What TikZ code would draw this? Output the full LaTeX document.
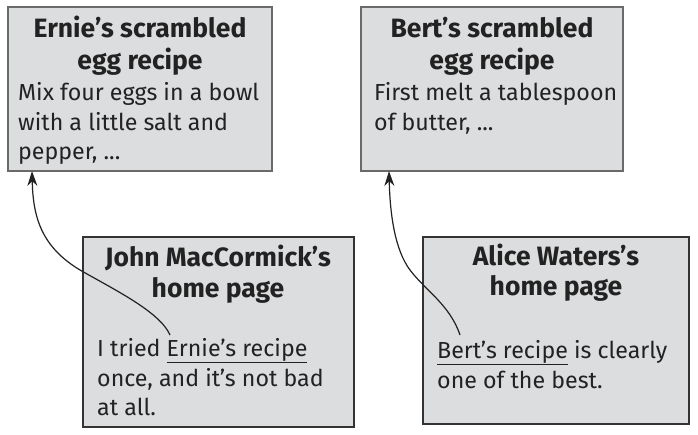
\documentclass[tikz,border=0pt]{standalone}
\usepackage{fontspec}
\setmainfont{Fira Sans}
\usetikzlibrary{arrows.meta}
\definecolor{boxfill}{HTML}{DCDDDF}
\definecolor{topedge}{HTML}{6A6A6A}
\definecolor{botedge}{HTML}{333333}
\definecolor{ink}{HTML}{222222}
\tikzset{
  pagebox/.style={draw=botedge, line width=1.8pt, fill=boxfill},
  recipebox/.style={draw=topedge, line width=2pt, fill=boxfill},
  titleline/.style={anchor=base, inner sep=0pt, font=\fontsize{26.5}{30}\selectfont\bfseries, text=ink},
  bodyline/.style={anchor=base west, inner sep=0pt, font=\fontsize{23.2}{27}\selectfont, text=ink},
  linkarrow/.style={draw=ink, line width=1.2pt, -{Stealth[length=15pt,width=10pt]}}
}
\begin{document}
\begin{tikzpicture}[x=1pt,y=-1pt]
\useasboundingbox (0,0) rectangle (698,434);
% boxes
\path[recipebox] (8,7) rectangle (272,171);
\coordinate (ernie) at (32,171);
\path[recipebox] (361,7) rectangle (623,171);
\coordinate (bert) at (389,171);
\path[pagebox] (83,237) rectangle (354,427);
\path[pagebox] (423,237) rectangle (689,424);
% Ernie
\node[titleline] (e1) at (140,37) {Ernie’s scrambled};
\node[titleline] (e2) at (140,69) {egg recipe};
\node[bodyline] (e3) at (18,100) {Mix four eggs in a bowl};
\node[bodyline] (e4) at (18,130) {with a little salt and};
\node[bodyline] (e5) at (18,159) {pepper, ...};
% Bert
\node[titleline] (b1) at (492,37) {Bert’s scrambled};
\node[titleline] (b2) at (492,69) {egg recipe};
\node[bodyline] (b3) at (374,100) {First melt a tablespoon};
\node[bodyline] (b4) at (374,130) {of butter, ...};
% John
\node[titleline] (j1) at (218,266) {John MacCormick’s};
\node[titleline] (j2) at (218,297) {home page};
\node[bodyline] (j3) at (97,356) {I tried \underline{Ernie’s recipe}};
\node[bodyline] (j4) at (97,386) {once, and it’s not bad};
\node[bodyline] (j5) at (97,415) {at all.};
% Alice
\node[titleline] (a1) at (556,265) {Alice Waters’s};
\node[titleline] (a2) at (556,295) {home page};
\node[bodyline] (a3) at (437,358) {\underline{Bert’s recipe} is clearly};
\node[bodyline] (a4) at (437,388) {one of the best.};
% link sources
\coordinate (jlink) at (170,335);
\coordinate (alink) at (460,335);
% arrows
\draw[linkarrow] (jlink) .. controls (160,312) and (115,290) .. (80,270)
   .. controls (40,246) and (33,215) .. (ernie);
\draw[linkarrow] (alink) .. controls (450,305) and (425,290) .. (410,270)
   .. controls (395,250) and (390,215) .. (bert);
\end{tikzpicture}
\end{document}
